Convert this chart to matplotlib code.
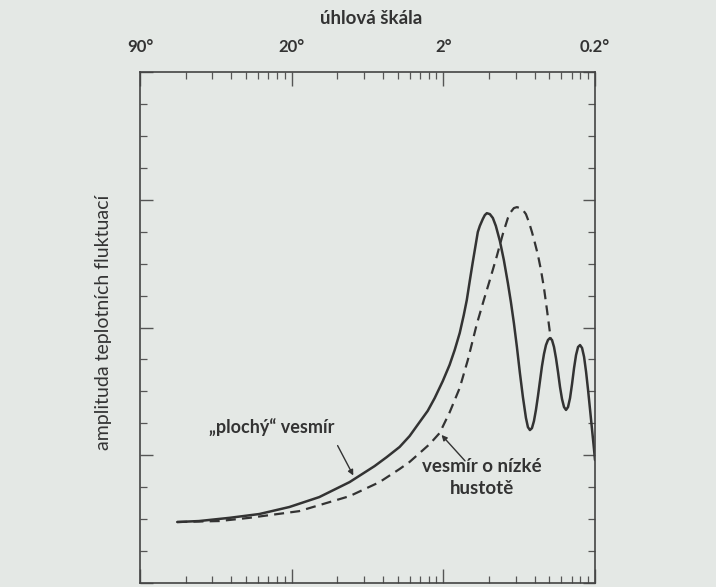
import matplotlib
matplotlib.use("Agg")
import matplotlib.pyplot as plt
from matplotlib.ticker import FixedLocator, LogLocator, NullFormatter, MultipleLocator

# ---- data (multipole l on a log axis, amplitude in arbitrary units) ----
flat_l = [1.76, 2.45, 3.88, 6.12, 9.66, 15.2, 24.1, 35.2, 42.3, 51.5,
          59.9, 69.8, 78.9, 87.7, 99.1, 110, 118.9, 128.3, 136.4, 142.8,
          149.4, 156.4, 161.3, 168.8, 174.0, 182.2, 187.8, 193.6, 202.7, 212.1,
          222.0, 236.0, 250.7, 266.5, 278.9, 291.9, 305.6, 319.9, 334.8, 350.5,
          361.3, 372.4, 384.0, 395.8, 408.0, 420.6, 433.6, 447.1, 460.9, 475.1,
          489.8, 504.9, 520.6, 536.7, 553.2, 570.3, 587.9, 606.1, 624.9, 644.2,
          664.1, 684.6, 705.7, 727.6, 750.1, 773.2, 797.1, 821.7, 847.2, 873.4,
          900.3, 928.1, 956.8, 986.5, 1000]
flat_amp = [1.91, 1.94, 2.04, 2.16, 2.38, 2.69, 3.16, 3.66, 3.94, 4.26,
            4.60, 5.04, 5.39, 5.79, 6.32, 6.83, 7.30, 7.83, 8.39, 8.86,
            9.46, 10.05, 10.43, 10.99, 11.18, 11.40, 11.52, 11.58, 11.55, 11.43,
            11.18, 10.71, 10.11, 9.39, 8.80, 8.14, 7.39, 6.57, 5.82, 5.17,
            4.88, 4.79, 4.85, 5.07, 5.42, 5.85, 6.32, 6.79, 7.17, 7.45,
            7.61, 7.67, 7.61, 7.39, 7.04, 6.61, 6.14, 5.76, 5.51, 5.42,
            5.51, 5.79, 6.23, 6.73, 7.14, 7.39, 7.45, 7.36, 7.08, 6.61,
            6.04, 5.42, 4.79, 4.16, 3.85]

low_l = [1.76, 3.33, 5.25, 11.2, 24.1, 38.0, 51.5, 59.9, 69.8, 81.3,
         94.7, 110.2, 128.3, 145.0, 166.3, 184.9, 202.7, 225.4, 246.9, 266.5,
         278.9, 291.9, 305.6, 319.9, 334.8, 350.5, 366.8, 384.0, 401.9, 420.6,
         440.3, 460.9, 482.4, 504.9, 512.7]
low_amp = [1.91, 1.94, 2.04, 2.25, 2.72, 3.16, 3.57, 3.79, 4.07, 4.35,
           4.70, 5.35, 6.11, 6.98, 8.11, 8.86, 9.49, 10.24, 10.93, 11.43,
           11.62, 11.74, 11.77, 11.74, 11.68, 11.55, 11.30, 10.99, 10.64, 10.27,
           9.80, 9.24, 8.55, 7.83, 7.61]

tick_l = [1, 10, 100, 1000]
tick_labels = ["90°", "20°", "2°", "0.2°"]

title_text = "úhlová škála"
ylabel_text = "amplituda teplotních fluktuací"
flat_label = "„plochý“ vesmír"
low_label = "vesmír o nízké\nhustotě"

# ---- style ----
bg = "#e4e8e5"
ink = "#333333"
plt.rcParams["font.family"] = ["Lato", "DejaVu Sans"]

fig = plt.figure(figsize=(7.16, 5.87), dpi=100, facecolor=bg)
ax = fig.add_axes([0.1955, 0.0068, 0.6355, 0.8705], facecolor=bg)

ax.plot(flat_l, flat_amp, color=ink, lw=1.8, solid_joinstyle="round",
        solid_capstyle="round")
ax.plot(low_l, low_amp, color=ink, lw=1.6, ls=(0, (4.5, 2.8)),
        dash_joinstyle="round")

ax.set_xscale("log")
ax.set_xlim(1, 1000)
ax.set_ylim(0, 16)

ax.xaxis.set_major_locator(FixedLocator(tick_l))
ax.xaxis.set_minor_locator(LogLocator(base=10, subs=range(2, 10), numticks=20))
ax.xaxis.set_minor_formatter(NullFormatter())
ax.set_xticklabels(tick_labels)
ax.yaxis.set_major_locator(MultipleLocator(4))
ax.yaxis.set_minor_locator(MultipleLocator(1))
ax.set_yticklabels([])

ax.tick_params(axis="x", which="both", direction="in", top=True, bottom=True,
               labeltop=True, labelbottom=False, colors="#555555", labelcolor=ink,
               labelsize=12, pad=12)
ax.tick_params(axis="x", which="major", length=10, width=1)
ax.tick_params(axis="x", which="minor", length=5, width=0.9)
ax.tick_params(axis="y", which="both", direction="in", left=True, right=True,
               colors="#555555")
ax.tick_params(axis="y", which="major", length=9, width=1)
ax.tick_params(axis="y", which="minor", length=5, width=0.9)
for lab in ax.get_xticklabels():
    lab.set_fontweight("bold")

for s in ax.spines.values():
    s.set_color("#444444")
    s.set_linewidth(1.2)

fig.text(371 / 716, 1 - 18 / 587, title_text, ha="center", va="center",
         fontsize=13.5, fontweight="bold", color=ink)
fig.text(103 / 716, 1 - 322 / 587, ylabel_text, ha="center", va="center",
         rotation=90, fontsize=14, color=ink)

ax.text(7.34, 4.85, flat_label, ha="center", va="center", fontsize=13,
        fontweight="bold", color=ink)
ax.annotate("", xy=(26, 3.29), xytext=(19.7, 4.38),
            arrowprops=dict(arrowstyle="-|>", color=ink, lw=1, mutation_scale=8))

ax.text(180, 3.3, low_label, ha="center", va="center", fontsize=13.5,
        fontweight="bold", color=ink, linespacing=1.35)
ax.annotate("", xy=(94.6, 4.70), xytext=(143, 3.76),
            arrowprops=dict(arrowstyle="-|>", color=ink, lw=1, mutation_scale=8))

fig.savefig("out.png", dpi=100, facecolor=bg)
